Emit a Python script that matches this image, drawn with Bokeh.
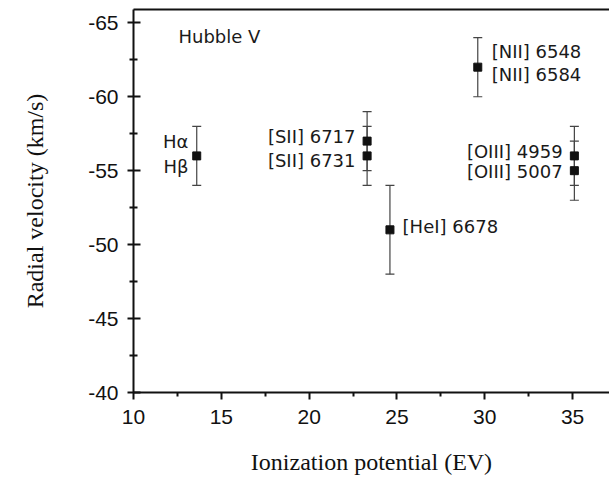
from bokeh.plotting import figure
from bokeh.models import ColumnDataSource, Range1d, Whisker, TeeHead, LinearAxis, FixedTicker
from bokeh.embed import file_html
from bokeh.resources import INLINE
from bokeh.core.properties import value

# Data: ionization potential (eV) vs radial velocity (km/s)
lines = ["Ha/Hb", "[SII] 6717", "[SII] 6731", "[HeI] 6678", "[NII] 6548/6584", "[OIII] 4959", "[OIII] 5007"]
ion_pot = [13.6, 23.3, 23.3, 24.6, 29.6, 35.1, 35.1]
velocity = [-56.0, -57.0, -56.0, -51.0, -62.0, -56.0, -55.0]
vel_err = [2.0, 2.0, 2.0, 3.0, 2.0, 2.0, 2.0]

x_ticks = [10, 15, 20, 25, 30, 35]
y_ticks = [-65, -60, -55, -50, -45, -40]

# Annotation texts (label, x, y, align)
ann_text = ["Hα", "Hβ", "[SII] 6717", "[SII] 6731", "[HeI] 6678",
            "[NII] 6548", "[NII] 6584", "[OIII] 4959", "[OIII] 5007"]
ann_x = [13.13, 13.13, 22.64, 22.64, 25.32, 30.39, 30.39, 34.43, 34.43]
ann_y = [-57.0, -55.26, -57.34, -55.66, -51.22, -63.05, -61.5, -56.33, -54.92]
ann_align = ["right", "right", "right", "right", "left", "left", "left", "right", "right"]

src = ColumnDataSource(dict(
    x=ion_pot, y=velocity,
    lo=[v - e for v, e in zip(velocity, vel_err)],
    hi=[v + e for v, e in zip(velocity, vel_err)],
))

p = figure(width=609, height=477, output_backend="svg", toolbar_location=None,
           x_range=Range1d(10, 37.1), y_range=Range1d(-40, -65.9),
           min_border_left=133, min_border_right=0, min_border_top=9, min_border_bottom=82)
p.background_fill_color = "white"
p.border_fill_color = "white"
p.outline_line_color = None
p.xgrid.visible = False
p.ygrid.visible = False

TICK_FONT = "Liberation Sans"
LAB_FONT = "Liberation Serif"

xa = p.xaxis[0]
xa.ticker = FixedTicker(ticks=x_ticks, minor_ticks=[12.5, 17.5, 22.5, 27.5, 32.5, 37.5])
xa.major_label_overrides = {t: str(t) for t in x_ticks}
xa.axis_line_width = 2
xa.axis_line_color = "#111111"
xa.major_tick_in = 0
xa.major_tick_out = 7
xa.major_tick_line_width = 2
xa.major_tick_line_color = "#111111"
xa.minor_tick_in = 0
xa.minor_tick_out = 4
xa.minor_tick_line_width = 2
xa.minor_tick_line_color = "#111111"
xa.major_label_text_font = TICK_FONT
xa.major_label_text_font_size = "21px"
xa.major_label_text_color = "#111111"
xa.major_label_standoff = 10
xa.axis_label = "Ionization potential (EV)"
xa.axis_label_text_font = LAB_FONT
xa.axis_label_text_font_size = "24px"
xa.axis_label_text_font_style = "normal"
xa.axis_label_text_color = "#111111"
xa.axis_label_standoff = 22

ya = p.yaxis[0]
ya.ticker = FixedTicker(ticks=y_ticks, minor_ticks=[-62.5, -57.5, -52.5, -47.5, -42.5])
ya.major_label_overrides = {t: str(t) for t in y_ticks}
ya.axis_line_width = 2
ya.axis_line_color = "#111111"
ya.major_tick_in = 7
ya.major_tick_out = 6
ya.major_tick_line_width = 2
ya.major_tick_line_color = "#111111"
ya.minor_tick_in = 4
ya.minor_tick_out = 4
ya.minor_tick_line_width = 2
ya.minor_tick_line_color = "#111111"
ya.major_label_text_font = TICK_FONT
ya.major_label_text_font_size = "21px"
ya.major_label_text_color = "#111111"
ya.major_label_standoff = 9
ya.axis_label = "Radial velocity (km/s)"
ya.axis_label_text_font = LAB_FONT
ya.axis_label_text_font_size = "24px"
ya.axis_label_text_font_style = "normal"
ya.axis_label_text_color = "#111111"
ya.axis_label_standoff = 37

top = LinearAxis(ticker=FixedTicker(ticks=[]))
top.axis_line_width = 2
top.axis_line_color = "#111111"
top.major_tick_line_color = None
top.minor_tick_line_color = None
top.major_label_text_font_size = "0px"
top.major_tick_out = 0
top.major_tick_in = 0
top.major_label_standoff = 0
p.add_layout(top, "above")

whisk = Whisker(source=src, base="x", lower="lo", upper="hi",
                line_color="#444444", line_width=1.2,
                upper_head=TeeHead(size=9, line_color="#444444", line_width=1.2),
                lower_head=TeeHead(size=9, line_color="#444444", line_width=1.2))
p.add_layout(whisk)

p.scatter("x", "y", source=src, marker="square", size=8,
          fill_color="#111111", line_color="#111111")

ann_src = ColumnDataSource(dict(x=ann_x, y=ann_y, text=ann_text, align=ann_align))
p.text("x", "y", text="text", source=ann_src, text_align="align", text_baseline="middle",
       text_font=value("DejaVu Sans"), text_font_size="18px", text_color="#1a1a1a")

p.text(x=[12.56], y=[-64.06], text=["Hubble V"], text_align="left", text_baseline="middle",
       text_font=value("DejaVu Sans"), text_font_size="18px", text_color="#1a1a1a")

open("out.html", "w").write(file_html(p, INLINE))
